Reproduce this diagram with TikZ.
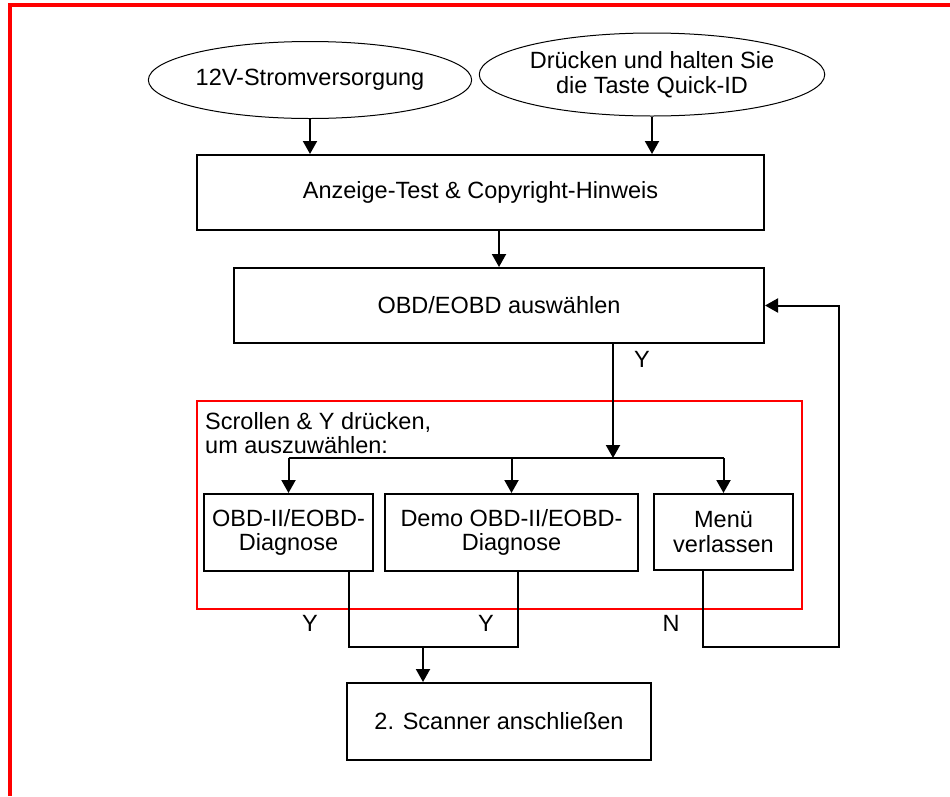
\documentclass[tikz,border=0pt]{standalone}
\usepackage{fontspec}
\setmainfont{Liberation Sans}
\usetikzlibrary{arrows.meta,shapes}

\begin{document}
\begin{tikzpicture}[x=1pt,y=-1pt,>={Triangle[length=13pt,width=14pt]},line join=miter,
  font=\fontsize{23.5}{24.5}\selectfont,
  box/.style={draw,line width=2pt,inner sep=0pt,align=center},
  oval/.style={draw,ellipse,line width=1pt,inner sep=0pt,align=center},
  edge/.style={line width=2pt},
  lbl/.style={inner sep=0pt}]
\useasboundingbox (0,0) rectangle (950,796);

% Frame
\draw[red,line width=3.5pt] (10,796) -- (10,5) -- (950,5);

% Node: pwr
\node[oval,minimum width=302pt,minimum height=77pt] (pwr) at (310,80) {12V-Stromversorgung};
% Node: key
\node[oval,minimum width=304pt,minimum height=83pt] (key) at (652,74.5) {Drücken und halten Sie\\die Taste Quick-ID};

% Node: disp
\node[box,minimum width=567pt,minimum height=75pt] (disp) at (480.5,192.5) {Anzeige-Test \& Copyright-Hinweis};
% Node: sel
\node[box,minimum width=530pt,minimum height=75pt] (sel) at (499,305.5) {OBD/EOBD auswählen};

% Group: choice
\draw[red,line width=2pt] (197,401) rectangle (802,609);
\node[lbl,anchor=north west,align=left] (scroll) at (205,412) {Scrollen \& Y drücken,\\um auszuwählen:};

% Node: diag
\node[box,minimum width=169pt,minimum height=77pt] (diag) at (288.5,532.5) {OBD-II/EOBD-\\Diagnose};
% Node: demo
\node[box,minimum width=253pt,minimum height=77pt] (demo) at (511.5,532.5) {Demo OBD-II/EOBD-\\Diagnose};
% Node: menu
\node[box,minimum width=139pt,minimum height=76pt] (menu) at (723.5,532) {Menü\\verlassen};

% Node: conn
\node[box,minimum width=303.5pt,minimum height=77pt] (conn) at (499,721.5) {2. Scanner anschließen};

% Joints
\coordinate (split) at (613,458);
\coordinate (j1) at (349,647);
\coordinate (j2) at (518,647);
\coordinate (j3) at (423,647);
\coordinate (n1) at (703,647);
\coordinate (n2) at (839,647);

% Edge: pwr -> disp
\draw[edge,->] (pwr.south) -- (pwr.south |- disp.north);
% Edge: key -> disp
\draw[edge,->] (key.south) -- (key.south |- disp.north);
% Edge: disp -> sel
\draw[edge,->] (sel.north |- disp.south) -- (sel.north);
% Edge: sel -> split
\draw[edge,->] (split |- sel.south) -- (split);
\node[lbl] (y0) at (642,359) {Y};
% Edge: split -> diag, demo, menu
\draw[edge] (diag.north |- split) -- (menu.north |- split);
\draw[edge,->] (diag.north |- split) -- (diag.north);
\draw[edge,->] (demo.north |- split) -- (demo.north);
\draw[edge,->] (menu.north |- split) -- (menu.north);

% Edge: diag, demo -> conn
\draw[edge] (diag.south -| j1) -- (j1) -- (j2) -- (demo.south -| j2);
\draw[edge,->] (j3) -- (j3 |- conn.north);
\node[lbl] (y1) at (310,623) {Y};
\node[lbl] (y2) at (486,623) {Y};

% Edge: menu -> sel
\draw[edge,->] (menu.south -| n1) -- (n1) -- (n2) |- (sel.east);
\node[lbl] (n0) at (671,623) {N};

\end{tikzpicture}
\end{document}
